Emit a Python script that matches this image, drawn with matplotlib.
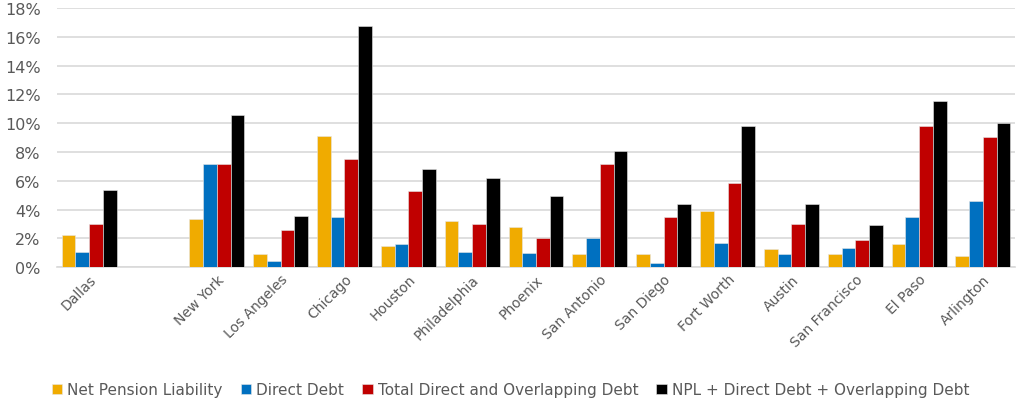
import matplotlib

matplotlib.use("Agg")

import matplotlib.pyplot as plt
import numpy as np
from matplotlib.ticker import PercentFormatter

CITIES = ["Dallas", "", "New York", "Los Angeles", "Chicago", "Houston", "Philadelphia",
          "Phoenix", "San Antonio", "San Diego", "Fort Worth", "Austin", "San Francisco",
          "El Paso", "Arlington"]

# values in percent; the blank slot has no data
NPL = [2.25, np.nan, 3.36, 0.88, 9.14, 1.44, 3.20, 2.80, 0.88, 0.88, 3.92, 1.25, 0.88, 1.62, 0.79]
DIRECT = [1.07, np.nan, 7.15, 0.42, 3.45, 1.62, 1.07, 0.97, 2.00, 0.32, 1.71, 0.88, 1.34, 3.45, 4.57]
TOTAL = [3.00, np.nan, 7.15, 2.55, 7.49, 5.29, 3.00, 2.00, 7.15, 3.45, 5.87, 3.00, 1.90, 9.79, 9.07]
COMBINED = [5.38, np.nan, 10.54, 3.55, 16.78, 6.85, 6.20, 4.92, 8.05, 4.39, 9.79, 4.39, 2.90, 11.56, 9.98]

SERIES = [
    ("Net Pension Liability", NPL, "#F0AB00"),
    ("Direct Debt", DIRECT, "#0070C0"),
    ("Total Direct and Overlapping Debt", TOTAL, "#C00000"),
    ("NPL + Direct Debt + Overlapping Debt", COMBINED, "#000000"),
]

fig = plt.figure(figsize=(10.21, 4.10), dpi=100)
ax = fig.add_axes([0.056, 0.346, 0.938, 0.632])

x = np.arange(len(CITIES))
width = 0.215
for i, (label, vals, color) in enumerate(SERIES):
    ax.bar(x + (i - 1.5) * width, vals, width=width, color=color, label=label,
           edgecolor="#e6e6e6", linewidth=0.4, zorder=3)

ax.set_xlim(-0.5, len(CITIES) - 0.5)
ax.set_ylim(0, 18)
ax.set_yticks(np.arange(0, 19, 2))
ax.yaxis.set_major_formatter(PercentFormatter(decimals=0))
ax.grid(axis="y", color="#d9d9d9", linewidth=1.2, zorder=0)
for side in ["top", "right", "left"]:
    ax.spines[side].set_visible(False)
ax.spines["bottom"].set_color("#d9d9d9")
ax.spines["bottom"].set_linewidth(1.2)
ax.tick_params(axis="both", length=0, colors="#595959", labelsize=11.5)
ax.tick_params(axis="y", pad=12)
ax.set_xticks(x)
ax.set_xticklabels(CITIES, rotation=45, ha="right", rotation_mode="anchor", fontsize=10)

fig.legend(loc="lower center", bbox_to_anchor=(0.5, -0.005), ncol=4, frameon=False,
           fontsize=11, handlelength=0.7, handleheight=0.7, handletextpad=0.3,
           columnspacing=1.2, labelcolor="#595959")

fig.savefig("out.png", dpi=100)
